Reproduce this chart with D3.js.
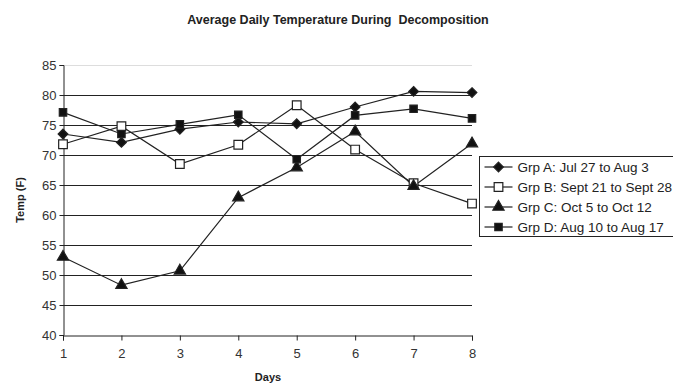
<!DOCTYPE html>
<html>
<head>
<meta charset="utf-8">
<script src="https://cdn.jsdelivr.net/npm/d3@7"></script>
<style>
  body { margin: 0; background: #fff; }
  text { font-family: "Liberation Sans", Arial, sans-serif; }
</style>
</head>
<body>
<div id="chart"></div>
<script>
  const days = [1, 2, 3, 4, 5, 6, 7, 8];
  const yTicks = [40, 45, 50, 55, 60, 65, 70, 75, 80, 85];
  const grpA = [73.5, 72.1, 74.3, 75.5, 75.2, 78.0, 80.6, 80.4];
  const grpB = [71.8, 74.8, 68.5, 71.7, 78.3, 70.9, 65.3, 61.9];
  const grpC = [53.0, 48.3, 50.7, 62.9, 67.9, 73.9, 64.8, 71.9];
  const grpD = [77.1, 73.5, 75.1, 76.7, 69.3, 76.6, 77.7, 76.1];
  const names = ['Grp A: Jul 27 to Aug 3', 'Grp B: Sept 21 to Sept 28', 'Grp C: Oct 5 to Oct 12', 'Grp D: Aug 10 to Aug 17'];

  const width = 673, height = 384;
  const plot = { left: 63, right: 472, top: 65, bottom: 335 };

  const svg = d3.select('#chart').append('svg')
    .attr('width', width).attr('height', height);

  const x = d3.scaleLinear().domain([1, 8]).range([plot.left, plot.right]);
  const y = d3.scaleLinear().domain([40, 85]).range([plot.bottom, plot.top]);

  // title
  svg.append('text').text('Average Daily Temperature During  Decomposition')
    .attr('x', 338).attr('y', 24).attr('text-anchor', 'middle')
    .style('font-size', '12.5px').style('font-weight', 'bold').attr('fill', '#222')
    .style('white-space', 'pre');

  // gridlines
  svg.append('g').selectAll('line').data(yTicks.filter(d => d > 40)).enter().append('line')
    .attr('x1', plot.left).attr('x2', plot.right)
    .attr('y1', d => y(d) + 0.5).attr('y2', d => y(d) + 0.5)
    .attr('stroke', d => d === 85 ? '#ddd' : '#222').attr('stroke-width', 1);

  // axes
  const yAxis = svg.append('g').attr('transform', `translate(${plot.left + 0.5},0)`)
    .call(d3.axisLeft(y).tickValues(yTicks).tickFormat(d3.format('d')).tickSize(4).tickPadding(3));
  const xAxis = svg.append('g').attr('transform', `translate(0,${plot.bottom + 0.5})`)
    .call(d3.axisBottom(x).tickValues(days).tickFormat(d3.format('d')).tickSize(5).tickPadding(8));
  [yAxis, xAxis].forEach(a => {
    a.select('.domain').attr('stroke', '#222');
    a.selectAll('.tick line').attr('stroke', '#222');
    a.selectAll('.tick text').attr('fill', '#333')
      .style('font-size', '13px').style('font-family', '"Liberation Sans", Arial, sans-serif');
  });

  // axis titles
  svg.append('text').text('Days').attr('x', 268).attr('y', 381).attr('text-anchor', 'middle')
    .style('font-size', '11px').style('font-weight', 'bold').attr('fill', '#222');
  svg.append('text').text('Temp (F)')
    .attr('transform', `translate(24,${(plot.top + plot.bottom) / 2}) rotate(-90)`)
    .attr('text-anchor', 'middle')
    .style('font-size', '11px').style('font-weight', 'bold').attr('fill', '#222');

  const series = [
    { name: names[0], values: grpA, shape: d3.symbolDiamond2, size: 60, fill: '#111' },
    { name: names[1], values: grpB, shape: d3.symbolSquare, size: 75, fill: '#fff' },
    { name: names[2], values: grpC, shape: d3.symbolTriangle, size: 55, fill: '#111' },
    { name: names[3], values: grpD, shape: d3.symbolSquare, size: 55, fill: '#111' }
  ];

  const line = d3.line().x((d, i) => x(days[i])).y(d => y(d));

  series.forEach(s => {
    svg.append('path').datum(s.values).attr('d', line)
      .attr('fill', 'none').attr('stroke', '#222').attr('stroke-width', 1.2);
  });
  series.forEach(s => {
    svg.append('g').selectAll('path').data(s.values).enter().append('path')
      .attr('d', d3.symbol().type(s.shape).size(s.size))
      .attr('transform', (d, i) => `translate(${x(days[i])},${y(d)})`)
      .attr('fill', s.fill).attr('stroke', '#222').attr('stroke-width', 1.2);
  });

  // legend
  const legend = svg.append('g').attr('transform', 'translate(479.5,156.5)');
  legend.append('rect').attr('width', 200).attr('height', 80)
    .attr('fill', '#fff').attr('stroke', '#222').attr('stroke-width', 1);
  const rows = legend.selectAll('.row').data(series).enter().append('g')
    .attr('transform', (d, i) => `translate(0,${10.5 + i * 20})`);
  rows.append('line').attr('x1', 5).attr('x2', 33).attr('stroke', '#222').attr('stroke-width', 1.2);
  rows.append('path')
    .attr('d', d => d3.symbol().type(d.shape).size(d.size)())
    .attr('transform', 'translate(19,0)')
    .attr('fill', d => d.fill).attr('stroke', '#222').attr('stroke-width', 1.2);
  rows.append('text').text(d => d.name).attr('x', 38).attr('dy', '0.36em')
    .style('font-size', '13.5px').attr('fill', '#222');
</script>
</body>
</html>
